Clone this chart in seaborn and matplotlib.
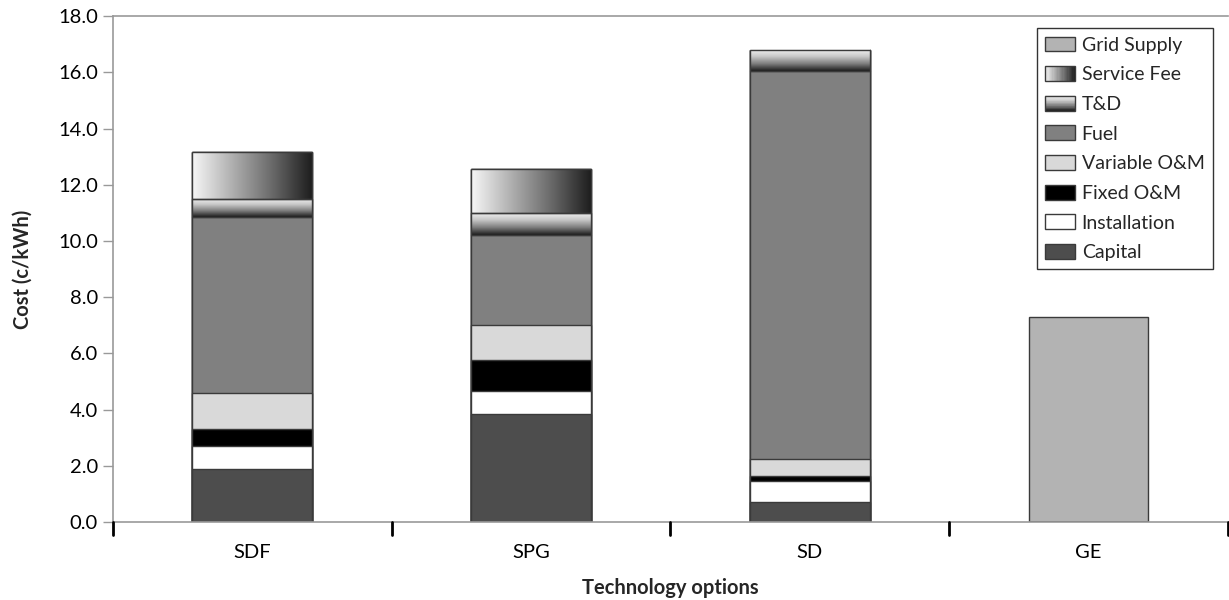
import numpy as np
import pandas as pd
import matplotlib
matplotlib.use("Agg")
import matplotlib.pyplot as plt
from matplotlib.colors import LinearSegmentedColormap
from matplotlib.patches import Rectangle
from matplotlib.legend_handler import HandlerBase
import seaborn as sns

# Cost components (c/kWh) per technology option
options = ["SDF", "SPG", "SD", "GE"]
capital = [1.9, 3.85, 0.7, 0.0]
installation = [0.8, 0.8, 0.75, 0.0]
fixed_om = [0.6, 1.1, 0.2, 0.0]
variable_om = [1.3, 1.25, 0.6, 0.0]
fuel = [6.25, 3.2, 13.8, 0.0]
t_and_d = [0.65, 0.8, 0.75, 0.0]
service_fee = [1.65, 1.55, 0.0, 0.0]
grid_supply = [0.0, 0.0, 0.0, 7.3]

components = ["Capital", "Installation", "Fixed O&M", "Variable O&M",
              "Fuel", "T&D", "Service Fee", "Grid Supply"]
values = [capital, installation, fixed_om, variable_om,
          fuel, t_and_d, service_fee, grid_supply]
fills = {"Capital": "#4d4d4d", "Installation": "#ffffff", "Fixed O&M": "#000000",
         "Variable O&M": "#d9d9d9", "Fuel": "#808080", "T&D": "#9a9a9a",
         "Service Fee": "#9a9a9a", "Grid Supply": "#b3b3b3"}
edge = "#3a3a3a"

td_cmap = LinearSegmentedColormap.from_list("td", ["#1c1c1c", "#7e7e7e", "#c8c8c8", "#f4f4f4"])
fee_cmap = LinearSegmentedColormap.from_list("fee", ["#f7f7f7", "#b0b0b0", "#6a6a6a", "#1e1e1e"])

sns.set_theme(style="white")
plt.rcParams["font.family"] = ["Lato", "DejaVu Sans"]

fig = plt.figure(figsize=(12.29, 6.0), dpi=100)
ax = fig.add_axes([0.092, 0.13, 0.907, 0.843])

df = pd.DataFrame({"option": options})
cum = np.zeros(len(options))
tops = []
for name, vals in zip(components, values):
    cum = cum + np.array(vals)
    tops.append(cum.copy())

# Draw cumulative totals from the top layer down so each segment shows its own fill
bar_width = 0.43
for name, top in reversed(list(zip(components, tops))):
    d = df.copy()
    d["total"] = top
    sns.barplot(data=d, x="option", y="total", color=fills[name], saturation=1,
                width=bar_width, edgecolor=edge, linewidth=1.0, ax=ax, zorder=2)

# Gradient fills for the T&D and service-fee segments
xs = np.arange(len(options))
for name, cmap, horizontal in [("T&D", td_cmap, False), ("Service Fee", fee_cmap, True)]:
    i = components.index(name)
    lower = tops[i - 1]
    upper = tops[i]
    for k, x in enumerate(xs):
        if upper[k] - lower[k] <= 0:
            continue
        if horizontal:
            grad = np.linspace(0, 1, 256).reshape(1, -1)
        else:
            grad = np.linspace(0, 1, 256).reshape(-1, 1)
        x0, x1 = x - bar_width / 2, x + bar_width / 2
        ax.imshow(grad, cmap=cmap, aspect="auto", origin="lower",
                  extent=(x0, x1, lower[k], upper[k]), zorder=3, interpolation="bilinear")
        ax.add_patch(Rectangle((x0, lower[k]), bar_width, upper[k] - lower[k],
                               fill=False, edgecolor=edge, linewidth=1.0, zorder=4))

ax.set_xlim(-0.5, len(options) - 0.5)
ax.set_ylim(0, 18)
ax.set_yticks(np.arange(0, 18.1, 2.0))
ax.set_yticklabels([f"{v:.1f}" for v in np.arange(0, 18.1, 2.0)])
ax.set_xticks(xs)
ax.set_xticklabels(options)
ax.tick_params(axis="x", length=0, labelsize=14.5, pad=16, colors="black")
ax.tick_params(axis="y", length=7, width=1, color="#999999", labelsize=14.5, pad=4,
               direction="out", left=True, labelcolor="black")
# Boundary ticks between categories
for b in np.arange(-0.5, len(options), 1.0):
    ax.plot([b, b], [0, -0.026], transform=ax.get_xaxis_transform(), color="black",
            lw=2, clip_on=False, zorder=5)

for s in ["left", "bottom", "top"]:
    ax.spines[s].set_color("#999999")
    ax.spines[s].set_linewidth(1.2)
ax.spines["right"].set_visible(False)

ax.set_xlabel("Technology options", fontsize=14.5, fontweight="bold", labelpad=12)
ax.set_ylabel("Cost (c/kWh)", fontsize=14.5, fontweight="bold", labelpad=18)


class GradientHandler(HandlerBase):
    def __init__(self, cmap, horizontal):
        super().__init__()
        self.cmap = cmap
        self.horizontal = horizontal

    def create_artists(self, legend, orig_handle, xdescent, ydescent, width, height,
                       fontsize, trans):
        artists = []
        n = 24
        for j in range(n):
            c = self.cmap((j + 0.5) / n)
            if self.horizontal:
                r = Rectangle((-xdescent + width * j / n, -ydescent), width / n + 0.3, height,
                              facecolor=c, edgecolor="none", transform=trans)
            else:
                r = Rectangle((-xdescent, -ydescent + height * j / n), width, height / n + 0.3,
                              facecolor=c, edgecolor="none", transform=trans)
            artists.append(r)
        artists.append(Rectangle((-xdescent, -ydescent), width, height, fill=False,
                                 edgecolor=edge, linewidth=1.0, transform=trans))
        return artists


handles, labels, hmap = [], [], {}
for name in reversed(components):
    h = Rectangle((0, 0), 1, 1, facecolor=fills[name], edgecolor=edge, linewidth=1.0)
    handles.append(h)
    labels.append(name)
    if name == "T&D":
        hmap[h] = GradientHandler(td_cmap, False)
    elif name == "Service Fee":
        hmap[h] = GradientHandler(fee_cmap, True)

leg = ax.legend(handles, labels, handler_map=hmap, loc="upper right",
                bbox_to_anchor=(0.9865, 0.976), fontsize=14, frameon=True,
                fancybox=False, edgecolor="black", handlelength=1.55, handleheight=0.8,
                handletextpad=0.35, labelspacing=0.64, borderpad=0.42, borderaxespad=0)
leg.get_frame().set_linewidth(1.0)

fig.savefig("out.png", dpi=100)
